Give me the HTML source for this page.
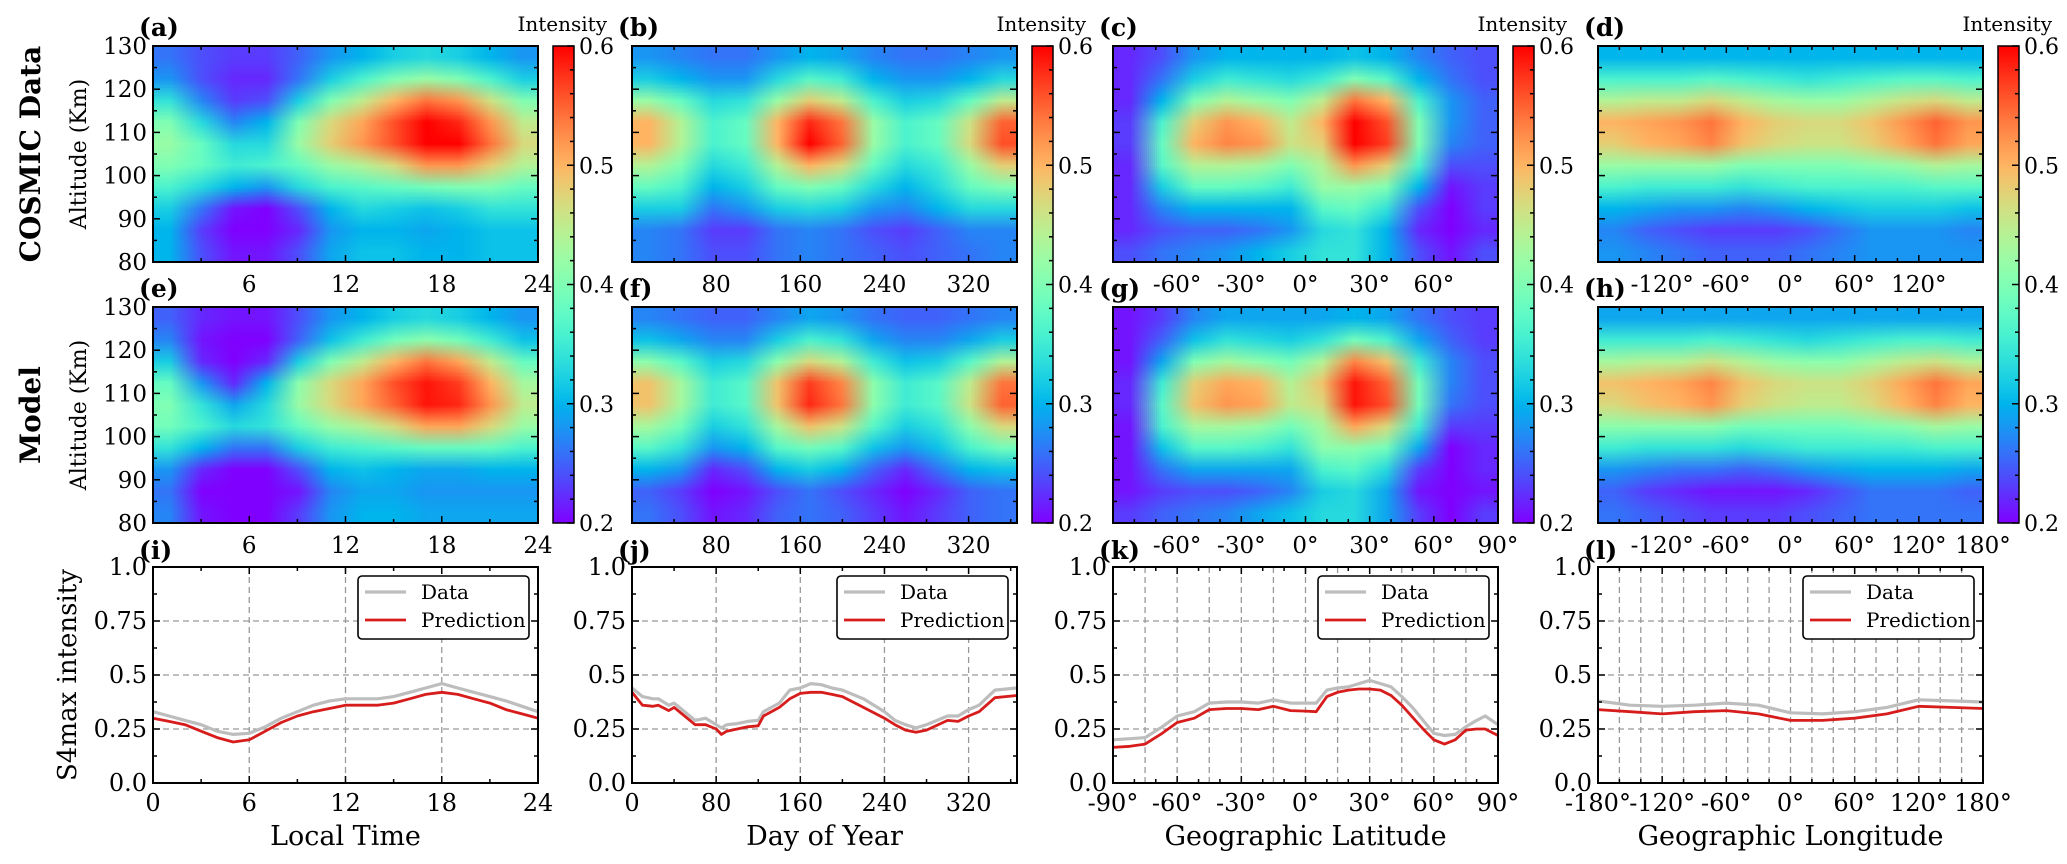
<!DOCTYPE html>
<html><head><meta charset="utf-8">
<style>
body{margin:0;background:#fff;}
#fig{position:relative;width:2067px;height:864px;overflow:hidden;background:#fff;font-family:"DejaVu Serif","Liberation Serif",serif;}
canvas.hm{position:absolute;image-rendering:auto;}
svg{position:absolute;left:0;top:0;}
</style></head>
<body>
<div id="fig">
<svg id="svg" width="2067" height="864"></svg>
</div>
<script>
// ---------- DATA (heatmaps: rows alt 127.5 -> 82.5, 12 columns across x domain) ----------
const hmA=[
[.26,.24,.23,.23,.25,.28,.30,.32,.33,.32,.30,.28],
[.28,.24,.22,.22,.26,.32,.36,.40,.42,.40,.36,.32],
[.34,.27,.23,.24,.32,.40,.45,.50,.54,.52,.46,.40],
[.40,.33,.27,.30,.40,.47,.51,.56,.60,.58,.52,.45],
[.42,.38,.33,.33,.42,.48,.52,.56,.60,.60,.54,.47],
[.40,.38,.35,.36,.38,.42,.44,.47,.52,.52,.48,.44],
[.36,.33,.30,.28,.33,.36,.37,.38,.39,.40,.40,.38],
[.32,.26,.21,.20,.24,.30,.33,.32,.31,.32,.34,.34],
[.30,.23,.20,.20,.22,.28,.30,.30,.29,.30,.31,.31],
[.30,.24,.21,.21,.24,.29,.31,.31,.30,.30,.31,.31]];
const hmB=[
[.28,.27,.26,.26,.28,.30,.29,.27,.26,.26,.27,.28],
[.32,.30,.28,.28,.33,.37,.35,.30,.28,.28,.30,.33],
[.42,.38,.33,.34,.42,.48,.45,.36,.32,.33,.38,.45],
[.50,.44,.36,.38,.50,.58,.54,.42,.36,.38,.46,.55],
[.50,.44,.36,.38,.50,.60,.55,.42,.36,.38,.47,.56],
[.44,.40,.33,.35,.44,.50,.47,.38,.33,.35,.42,.48],
[.38,.36,.30,.32,.38,.40,.38,.33,.30,.33,.38,.40],
[.32,.32,.26,.28,.32,.33,.32,.28,.27,.30,.33,.33],
[.27,.26,.23,.23,.26,.27,.26,.24,.23,.25,.27,.27],
[.27,.26,.24,.24,.26,.27,.26,.25,.24,.25,.26,.27]];
const hmC=[
[.22,.24,.28,.30,.30,.30,.30,.31,.30,.27,.25,.24],
[.22,.26,.32,.35,.34,.33,.35,.40,.37,.30,.26,.24],
[.22,.30,.40,.44,.42,.40,.45,.54,.50,.36,.28,.25],
[.23,.36,.48,.52,.50,.45,.50,.60,.56,.40,.28,.25],
[.23,.38,.50,.53,.52,.46,.48,.60,.57,.40,.27,.25],
[.22,.37,.44,.44,.43,.40,.44,.52,.48,.36,.24,.24],
[.22,.32,.38,.38,.37,.35,.42,.42,.40,.30,.21,.23],
[.22,.27,.30,.30,.30,.30,.37,.38,.34,.24,.20,.23],
[.22,.24,.25,.25,.26,.28,.33,.34,.30,.22,.20,.22],
[.24,.26,.27,.28,.30,.32,.34,.34,.30,.24,.21,.24]];
const hmD=[
[.30,.30,.30,.30,.30,.30,.30,.30,.30,.30,.30,.30],
[.36,.36,.36,.37,.36,.35,.34,.35,.36,.37,.37,.36],
[.44,.45,.45,.47,.45,.43,.42,.42,.44,.46,.47,.45],
[.50,.51,.52,.54,.50,.48,.47,.47,.49,.52,.55,.52],
[.48,.50,.51,.53,.49,.47,.46,.46,.48,.51,.54,.51],
[.42,.42,.42,.42,.40,.40,.40,.40,.41,.42,.44,.43],
[.36,.35,.35,.35,.34,.35,.36,.36,.36,.36,.37,.37],
[.30,.29,.28,.28,.27,.28,.30,.31,.32,.32,.32,.31],
[.27,.25,.24,.23,.23,.23,.24,.26,.28,.28,.28,.27],
[.28,.27,.26,.25,.25,.25,.26,.27,.28,.28,.28,.28]];
const hmE=[
[.25,.22,.21,.21,.24,.28,.30,.32,.33,.32,.30,.28],
[.27,.21,.20,.20,.25,.31,.35,.39,.41,.39,.35,.31],
[.32,.22,.20,.22,.32,.40,.45,.50,.54,.51,.45,.38],
[.38,.28,.22,.30,.41,.47,.51,.56,.59,.57,.50,.43],
[.40,.34,.29,.33,.42,.47,.51,.55,.59,.58,.52,.45],
[.39,.36,.33,.34,.38,.42,.44,.47,.51,.51,.47,.42],
[.34,.30,.26,.26,.32,.35,.36,.37,.38,.38,.38,.36],
[.28,.22,.20,.20,.24,.30,.31,.30,.29,.29,.30,.30],
[.26,.20,.20,.20,.21,.27,.29,.29,.28,.28,.28,.28],
[.27,.21,.20,.20,.23,.28,.30,.30,.29,.29,.29,.29]];
const hmF=[
[.27,.26,.25,.25,.27,.29,.28,.26,.25,.25,.26,.27],
[.31,.29,.27,.27,.32,.36,.34,.29,.27,.27,.29,.32],
[.41,.37,.32,.33,.41,.47,.44,.35,.31,.32,.37,.44],
[.49,.43,.35,.37,.49,.57,.53,.41,.35,.37,.45,.54],
[.49,.43,.35,.37,.49,.58,.54,.41,.35,.37,.46,.55],
[.43,.39,.32,.34,.43,.49,.46,.37,.32,.34,.41,.47],
[.37,.34,.28,.30,.37,.39,.37,.31,.28,.31,.36,.39],
[.30,.28,.22,.24,.30,.32,.30,.25,.22,.26,.30,.31],
[.25,.23,.20,.21,.24,.26,.24,.22,.20,.22,.25,.26],
[.26,.24,.21,.22,.25,.26,.25,.23,.21,.23,.25,.26]];
const hmG=[
[.21,.23,.27,.29,.29,.29,.29,.30,.29,.26,.24,.23],
[.21,.25,.31,.34,.33,.32,.34,.39,.36,.29,.25,.23],
[.21,.29,.40,.43,.41,.39,.44,.53,.49,.35,.27,.24],
[.22,.35,.48,.51,.50,.44,.49,.59,.55,.39,.27,.24],
[.22,.37,.49,.52,.51,.45,.47,.59,.56,.39,.26,.24],
[.21,.36,.43,.43,.42,.39,.43,.51,.47,.35,.23,.23],
[.21,.31,.37,.37,.36,.34,.41,.41,.39,.29,.20,.22],
[.21,.26,.29,.29,.29,.29,.36,.37,.33,.23,.20,.22],
[.21,.23,.24,.24,.25,.27,.32,.33,.29,.21,.20,.21],
[.23,.25,.26,.27,.29,.31,.33,.33,.29,.23,.20,.23]];
const hmH=[
[.29,.29,.29,.29,.29,.29,.29,.29,.29,.29,.29,.29],
[.35,.35,.35,.36,.35,.34,.33,.34,.35,.36,.36,.35],
[.43,.44,.44,.46,.44,.42,.41,.41,.43,.45,.46,.44],
[.49,.50,.51,.53,.49,.47,.46,.46,.48,.51,.54,.51],
[.47,.49,.50,.52,.48,.46,.45,.45,.47,.50,.53,.50],
[.41,.41,.41,.41,.39,.39,.39,.39,.40,.41,.43,.42],
[.35,.34,.34,.34,.33,.34,.35,.35,.35,.35,.36,.36],
[.28,.27,.26,.26,.25,.26,.28,.29,.30,.30,.30,.29],
[.25,.23,.22,.21,.21,.21,.22,.24,.26,.26,.26,.25],
[.26,.25,.24,.23,.23,.23,.24,.25,.26,.26,.26,.26]];

// ---------- DATA (line plots) ----------
const ltX=[0,1,2,3,4,5,6,7,8,9,10,11,12,13,14,15,16,17,18,19,20,21,22,23,24];
const ltData=[.33,.31,.29,.27,.24,.225,.23,.26,.30,.33,.36,.38,.39,.39,.39,.40,.42,.44,.46,.44,.42,.40,.38,.355,.33];
const ltPred=[.30,.285,.27,.24,.21,.19,.20,.24,.28,.31,.33,.345,.36,.36,.36,.37,.39,.41,.42,.41,.39,.37,.34,.32,.30];
const doyX=[0,10,20,25,35,40,50,60,70,80,85,90,100,110,120,125,140,150,160,170,180,190,200,220,240,250,260,270,280,300,310,320,330,345,366];
const doyData=[.44,.40,.39,.39,.36,.37,.33,.29,.30,.27,.255,.27,.275,.285,.29,.33,.37,.43,.44,.46,.455,.44,.43,.39,.33,.29,.27,.255,.27,.31,.31,.34,.36,.43,.44];
const doyPred=[.42,.36,.355,.36,.335,.35,.31,.27,.27,.25,.225,.24,.25,.26,.265,.31,.35,.39,.415,.42,.42,.41,.40,.35,.30,.27,.245,.235,.245,.29,.285,.31,.33,.395,.405];
const latX=[-90,-82,-75,-67,-60,-52,-45,-37,-30,-22,-15,-7,0,5,10,15,20,25,30,35,40,45,50,55,60,65,70,75,80,84,90];
const latData=[.20,.205,.21,.26,.31,.33,.37,.375,.375,.37,.385,.37,.37,.37,.43,.44,.445,.46,.475,.46,.445,.40,.35,.29,.23,.22,.225,.26,.29,.31,.27];
const latPred=[.165,.17,.18,.23,.28,.30,.34,.345,.345,.34,.355,.335,.333,.33,.40,.42,.43,.435,.435,.43,.405,.36,.305,.25,.20,.18,.20,.245,.25,.25,.22];
const lonX=[-180,-150,-120,-90,-60,-30,0,30,60,90,120,150,180];
const lonData=[.38,.36,.355,.36,.37,.36,.325,.32,.33,.35,.385,.38,.375];
const lonPred=[.34,.33,.32,.33,.335,.32,.29,.29,.30,.32,.355,.35,.345];

// ---------- TICKS ----------
const ticksLT=[0,6,12,18,24], ticksDOY=[0,80,160,240,320], ticksLat=[-90,-60,-30,0,30,60,90], ticksLon=[-180,-120,-60,0,60,120,180];
const ticksAlt=[80,90,100,110,120,130], ticksS4=[0,0.25,0.5,0.75,1.0], s4Labels=["0.0","0.25","0.5","0.75","1.0"];
const cbTicks=[0.2,0.3,0.4,0.5,0.6];

// ---------- LAYOUT ----------
const NS="http://www.w3.org/2000/svg";
const svg=document.getElementById('svg');
const fig=document.getElementById('fig');
const LEFTS=[153,632,1113,1598], W=385, H=216;
const ROW_T=[46,307,567];
const FONT='"DejaVu Serif","Liberation Serif",serif';

function el(tag,attrs,parent){const e=document.createElementNS(NS,tag);for(const k in attrs)e.setAttribute(k,attrs[k]);(parent||svg).appendChild(e);return e;}
function txt(x,y,s,size,anchor,extra){const t=el('text',Object.assign({x:x,y:y,'font-size':size,'text-anchor':anchor||'middle','font-family':FONT,fill:'#000'},extra||{}));t.textContent=s;return t;}

function cmap(v){let x=(v-0.2)/0.4;x=Math.max(0,Math.min(1,x));
 const r=Math.min(1,Math.abs(2*x-0.5)),g=Math.sin(Math.PI*x),b=Math.cos(Math.PI*x/2);
 return [Math.round(r*255),Math.round(g*255),Math.round(Math.max(0,b)*255)];}

const cols=[
 {x0:0,x1:24,major:[6,12,18,24],minor:3,hm:[hmA,hmE],lines:[ltX,ltData,ltPred],lt:ticksLT,fmt:v=>String(v),grid:[6,12,18],title:'Local Time',top1:[6,12,18,24],top2:[6,12,18,24]},
 {x0:0,x1:366,major:[80,160,240,320],minor:40,hm:[hmB,hmF],lines:[doyX,doyData,doyPred],lt:ticksDOY,fmt:v=>String(v),grid:[80,160,240,320],title:'Day of Year',top1:[80,160,240,320],top2:[80,160,240,320]},
 {x0:-90,x1:90,major:[-60,-30,0,30,60],minor:10,hm:[hmC,hmG],lines:[latX,latData,latPred],lt:ticksLat,fmt:v=>v+'°',grid:[-75,-60,-45,-30,-15,0,15,30,45,60,75],title:'Geographic Latitude',top1:[-60,-30,0,30,60],top2:[-60,-30,0,30,60,90]},
 {x0:-180,x1:180,major:[-120,-60,0,60,120],minor:20,hm:[hmD,hmH],lines:[lonX,lonData,lonPred],lt:ticksLon,fmt:v=>v+'°',grid:[-160,-140,-120,-100,-80,-60,-40,-20,0,20,40,60,80,100,120,140,160],title:'Geographic Longitude',top1:[-120,-60,0,60,120],top2:[-120,-60,0,60,120,180]}
];
const letters=[['a','e','i'],['b','f','j'],['c','g','k'],['d','h','l']];
const hmNames=[['heatmap-a-cosmic-local-time','heatmap-e-model-local-time'],['heatmap-b-cosmic-doy','heatmap-f-model-doy'],['heatmap-c-cosmic-latitude','heatmap-g-model-latitude'],['heatmap-d-cosmic-longitude','heatmap-h-model-longitude']];

cols.forEach((c,ci)=>{
 const L=LEFTS[ci];
 const sx=v=>L+(v-c.x0)/(c.x1-c.x0)*W;
 // heatmaps
 for(let r=0;r<2;r++){
  const T=ROW_T[r];const grid=c.hm[r];
  const cv=document.createElement('canvas');cv.className='hm';
  
  
  const nr=grid.length,nc=grid[0].length;cv.width=nc;cv.height=nr;
  cv.style.left=L+'px';cv.style.top=T+'px';cv.style.width=W+'px';cv.style.height=H+'px';
  const ctx=cv.getContext('2d');const img=ctx.createImageData(nc,nr);
  for(let i=0;i<nr;i++)for(let j=0;j<nc;j++){const col=cmap(grid[i][j]);const k=(i*nc+j)*4;img.data[k]=col[0];img.data[k+1]=col[1];img.data[k+2]=col[2];img.data[k+3]=255;}
  ctx.putImageData(img,0,0);fig.insertBefore(cv,svg);
  const sy=a=>T+(130-a)/50*H;
  const g=el('g',{});
  
  
  el('rect',{x:L,y:T,width:W,height:H,fill:'none',stroke:'#000','stroke-width':2},g);
  for(let v=c.x0+c.minor;v<c.x1;v+=c.minor){const mj=c.major.includes(v);const len=mj?7:4;
   el('line',{x1:sx(v),x2:sx(v),y1:T+H,y2:T+H-len,stroke:'#000','stroke-width':1.5},g);
   el('line',{x1:sx(v),x2:sx(v),y1:T,y2:T+len,stroke:'#000','stroke-width':1.5},g);}
  for(let a=85;a<130;a+=5){const len=(a%10===0)?7:4;
   el('line',{x1:L,x2:L+len,y1:sy(a),y2:sy(a),stroke:'#000','stroke-width':1.5},g);
   el('line',{x1:L+W,x2:L+W-len,y1:sy(a),y2:sy(a),stroke:'#000','stroke-width':1.5},g);}
  const labs=r===0?c.top1:c.top2;
  labs.forEach(v=>{const t=txt(sx(v),T+H+30,c.fmt(v),23,'middle');});
  if(ci===0){ticksAlt.forEach(a=>{const t=txt(L-6,sy(a)+8,String(a),23,'end');});
   const yl=txt(0,0,'Altitude (Km)',22,'middle',{transform:`translate(86,${T+H/2}) rotate(-90)`});
   }
  const lt=txt(L-14,T-10,'('+letters[ci][r]+')',25,'start',{'font-weight':'bold'});
  
 }
 // colorbar
 const cbx=L+W+15,cbw=21,cbt=46,cbb=523;
 const gid='cbg'+ci;const defs=el('defs',{});const lg=el('linearGradient',{id:gid,x1:0,y1:1,x2:0,y2:0},defs);
 for(let s=0;s<=20;s++){const v=0.2+0.4*s/20;const cc=cmap(v);el('stop',{offset:(s/20),'stop-color':`rgb(${cc[0]},${cc[1]},${cc[2]})`},lg);}
 const cb=el('rect',{x:cbx,y:cbt,width:cbw,height:cbb-cbt,fill:`url(#${gid})`,stroke:'#000','stroke-width':1.5});
 
 const cy=v=>cbb-(v-0.2)/0.4*(cbb-cbt);
 for(let k=0;k<=20;k++){const v=0.2+k*0.02;const mj=(k%5===0);
  el('line',{x1:cbx+cbw,x2:cbx+cbw-(mj?7:4),y1:cy(v),y2:cy(v),stroke:'#000','stroke-width':1.5});}
 cbTicks.forEach(v=>{const t=txt(cbx+cbw+5,cy(v)+8,v.toFixed(1),22,'start');});
 const it=txt(cbx+cbw+33,31,'Intensity',20,'end');

 // line plot
 const T=ROW_T[2];const sy=v=>T+(1-v)*H;
 const g=el('g',{});
 c.grid.forEach(v=>el('line',{x1:sx(v),x2:sx(v),y1:T,y2:T+H,stroke:'#999','stroke-width':1.3,'stroke-dasharray':'6,4'},g));
 [0.25,0.5,0.75].forEach(v=>el('line',{x1:L,x2:L+W,y1:sy(v),y2:sy(v),stroke:'#999','stroke-width':1.3,'stroke-dasharray':'6,4'},g));
 const [xs,d1,d2]=c.lines;
 const path=arr=>arr.map((v,i)=>(i?'L':'M')+sx(xs[i]).toFixed(1)+','+sy(v).toFixed(1)).join('');
 const pd=el('path',{d:path(d1),fill:'none',stroke:'#bdbdbd','stroke-width':3.2,'stroke-linejoin':'round'},g);
 
 const pp=el('path',{d:path(d2),fill:'none',stroke:'#d71c1c','stroke-width':2.8,'stroke-linejoin':'round'},g);
 
 el('rect',{x:L,y:T,width:W,height:H,fill:'none',stroke:'#000','stroke-width':2},g);
 for(let v=c.x0+c.minor;v<c.x1;v+=c.minor){const mj=c.lt.includes(v);const len=mj?7:4;
  el('line',{x1:sx(v),x2:sx(v),y1:T+H,y2:T+H-len,stroke:'#000','stroke-width':1.5},g);
  el('line',{x1:sx(v),x2:sx(v),y1:T,y2:T+len,stroke:'#000','stroke-width':1.5},g);}
 for(let v=0.125;v<1;v+=0.125){const len=(Math.round(v*8)%2===0)?7:4;
  el('line',{x1:L,x2:L+len,y1:sy(v),y2:sy(v),stroke:'#000','stroke-width':1.5},g);
  el('line',{x1:L+W,x2:L+W-len,y1:sy(v),y2:sy(v),stroke:'#000','stroke-width':1.5},g);}
 c.lt.forEach(v=>{const t=txt(sx(v),T+H+28,c.fmt(v),24,'middle');});
 ticksS4.forEach((v,i)=>{const t=txt(L-6,sy(v)+8,s4Labels[i],24,'end');});
 const xt=txt(L+W/2,T+H+62,c.title,27,'middle');
 const pl=txt(L-14,T-8,'('+letters[ci][2]+')',25,'start',{'font-weight':'bold'});
 
 // legend
 const lx=L+W-9-171,ly=T+9;
 const lgG=el('g',{});
 el('rect',{x:lx,y:ly,width:171,height:63,rx:4,fill:'#fff',stroke:'#000','stroke-width':1.6},lgG);
 el('line',{x1:lx+7,x2:lx+48,y1:ly+16,y2:ly+16,stroke:'#bdbdbd','stroke-width':3.2},lgG);
 el('line',{x1:lx+7,x2:lx+48,y1:ly+44,y2:ly+44,stroke:'#d71c1c','stroke-width':2.8},lgG);
 const t1=txt(lx+63,ly+23,'Data',20,'start');lgG.appendChild(t1);
 const t2=txt(lx+63,ly+51,'Prediction',20,'start');lgG.appendChild(t2);
});
const yl3=txt(0,0,'S4max intensity',26,'middle',{transform:`translate(76,${ROW_T[2]+H/2}) rotate(-90)`});

const r1=txt(0,0,'COSMIC Data',28,'middle',{transform:`translate(40,${ROW_T[0]+H/2}) rotate(-90)`,'font-weight':'bold'});

const r2=txt(0,0,'Model',28,'middle',{transform:`translate(40,${ROW_T[1]+H/2}) rotate(-90)`,'font-weight':'bold'});

</script>
</body></html>
